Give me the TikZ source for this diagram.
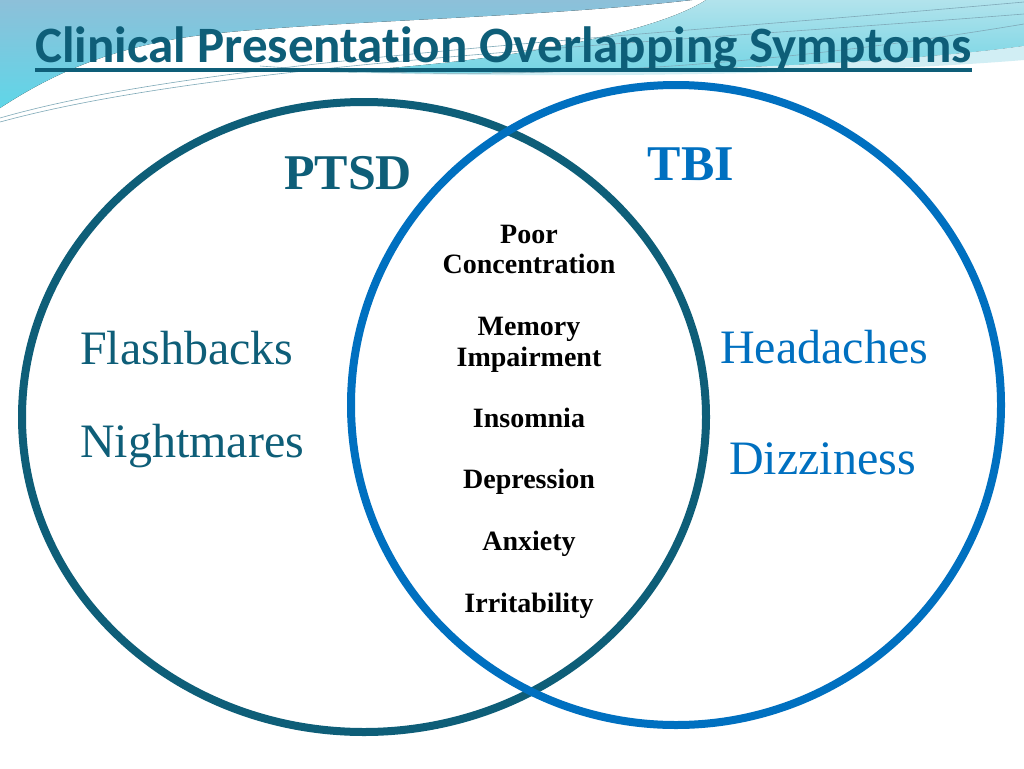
\documentclass[tikz,border=0pt]{standalone}
\usepackage{fontspec}
\setmainfont{Liberation Serif}
\newfontfamily\headfont[Ligatures=NoCommon]{Carlito}
\definecolor{ptsdteal}{HTML}{0E5E78}
\definecolor{tbiblue}{HTML}{0070C0}
\definecolor{skytop}{HTML}{8DC0D9}
\definecolor{skylow}{HTML}{5FD6E8}
\definecolor{palecyan}{HTML}{B2E3EC}
\definecolor{bandcyan}{HTML}{72D4E4}
\definecolor{wireline}{HTML}{7FA9B8}
\begin{document}
\begin{tikzpicture}
		[x=1pt, y=-1pt,
		every node/.style={inner sep=0pt, anchor=base},
		bigname/.style={font=\fontsize{50}{50}\selectfont\bfseries},
		sideitem/.style={font=\fontsize{48}{48}\selectfont, anchor=base west},
		midline/.style={font=\fontsize{28}{28}\selectfont\bfseries, text=black},
		ring/.style={line width=8pt}]
		\useasboundingbox[fill=white] (0,0) rectangle (1024,768);
		
		% background swooshes
		\fill[top color=skytop, bottom color=skylow] (0,0) -- (692,0) .. controls (520,20) and (260,22) .. (170,40) .. controls (90,55) and (40,82) .. (0,108) -- cycle;
		\fill[top color=palecyan, bottom color=bandcyan] (706,0) -- (1024,0) -- (1024,46) .. controls (880,66) and (600,76) .. (330,72) .. controls (520,62) and (660,30) .. (706,0) -- cycle;
		\fill[palecyan!60!white] (330,72) .. controls (600,76) and (880,66) .. (1024,46) -- (1024,60) .. controls (880,72) and (600,80) .. (330,72) -- cycle;
		\draw[wireline, line width=0.6pt] (0,118) .. controls (200,60) and (600,40) .. (1024,2);
		\draw[wireline, line width=0.6pt] (0,122) .. controls (220,62) and (620,46) .. (1024,14);
		\draw[wireline, line width=0.6pt] (260,66) .. controls (450,80) and (700,78) .. (1024,24);
		
		% title
		\node[anchor=base west, text=ptsdteal, font=\headfont\fontsize{51}{51}\selectfont\bfseries] (title) at (35,63) {Clinical Presentation Overlapping Symptoms};
		\draw[ptsdteal, line width=3.5pt] ([yshift=-7pt]title.base west) -- ([yshift=-7pt]title.base east);
		
		% the two sets
		\draw[ring, ptsdteal] (364,417) ellipse [x radius=342, y radius=315];
		\draw[ring, tbiblue] (676,405) ellipse [x radius=325, y radius=320];
		
		\node[bigname, text=ptsdteal] (ptsd) at (348,189) {PTSD};
		\node[bigname, text=tbiblue] (tbi) at (691,180) {TBI};
		
		\node[sideitem, text=ptsdteal] (flash) at (80,364) {Flashbacks};
		\node[sideitem, text=ptsdteal] (night) at (80,457) {Nightmares};
		\node[sideitem, text=tbiblue] (head) at (720,363) {Headaches};
		\node[sideitem, text=tbiblue] (dizzy) at (729,474) {Dizziness};
		
		% shared symptoms
		\node[midline] (poor) at (529,243) {Poor};
		\node[midline] (conc) at (529,273) {Concentration};
		\node[midline] (mem) at (529,335) {Memory};
		\node[midline] (impair) at (529,366) {Impairment};
		\node[midline] (insom) at (529,427) {Insomnia};
		\node[midline] (depr) at (529,488) {Depression};
		\node[midline] (anx) at (529,550) {Anxiety};
		\node[midline] (irrit) at (529,612) {Irritability};
		\end{tikzpicture}
\end{document}
